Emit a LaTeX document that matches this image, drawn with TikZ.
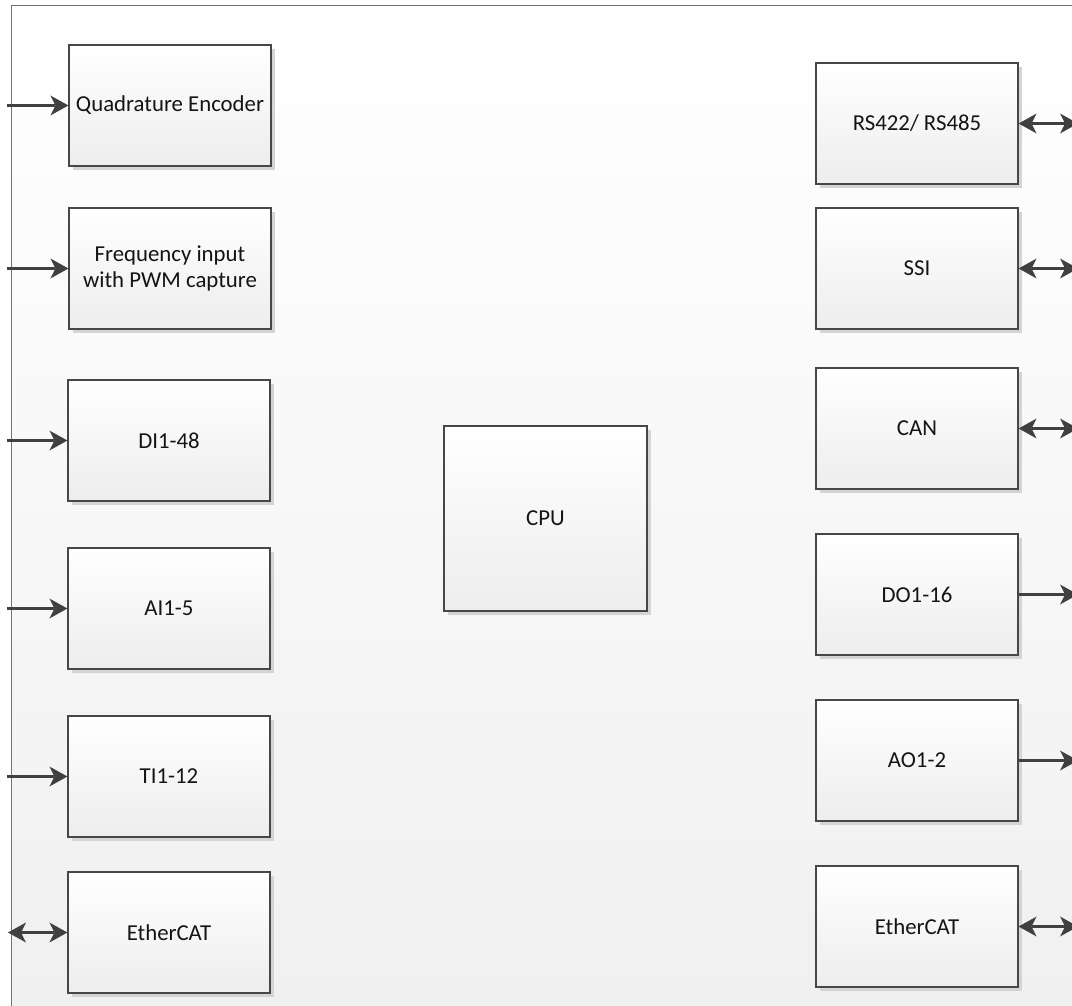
\documentclass[tikz,border=0pt]{standalone}
\usepackage{fontspec}
\setmainfont{Carlito}
\usetikzlibrary{arrows.meta,shadows}
\begin{document}
\begin{tikzpicture}[x=0.5pt,y=-0.5pt,
  blk/.style={draw=black!72, line width=0.6pt, top color=white, bottom color=black!7,
    minimum width=101pt, minimum height=60.5pt, inner sep=2pt, align=center,
    font=\fontsize{11.4}{12.8}\selectfont, text=black!92,
    drop shadow={shadow xshift=2pt, shadow yshift=-2pt, fill=black!17, opacity=1}},
  sig/.style={draw=black!75, line width=1.5pt,
    -{Stealth[length=9pt,width=10pt,inset=2.5pt,line width=0pt]}},
  bidir/.style={draw=black!75, line width=1.5pt,
    {Stealth[length=9pt,width=10pt,inset=2.5pt,line width=0pt]}-{Stealth[length=9pt,width=10pt,inset=2.5pt,line width=0pt]}}
]
\useasboundingbox (0,0) rectangle (1072,1006);
\clip (0,0) rectangle (1072,1006);
\fill[white] (0,0) rectangle (1072,1006);

% enclosing board
\draw[draw=black!55, line width=0.5pt, top color=white, bottom color=black!6]
  (11,6) rectangle (1100,1030);

% input modules
\node[blk] (qe)  at (170,105.5) {Quadrature Encoder};
\node[blk] (fi)  at (170,268.5) {Frequency input\\with PWM capture};
\node[blk] (di)  at (169,440.5) {DI1-48};
\node[blk] (ai)  at (169,608.5) {AI1-5};
\node[blk] (ti)  at (169,776.5) {TI1-12};
\node[blk] (ecl) at (169,932.5) {EtherCAT};

% processor
\node[blk, minimum width=101.5pt, minimum height=92.5pt] (cpu) at (545.5,518.5) {CPU};

% output and bus modules
\node[blk] (rs)  at (917,123.5) {RS422/ RS485};
\node[blk] (ssi) at (917,268.5) {SSI};
\node[blk] (can) at (917,428.5) {CAN};
\node[blk] (do)  at (917,594.5) {DO1-16};
\node[blk] (ao)  at (917,760.5) {AO1-2};
\node[blk] (ecr) at (917,926.5) {EtherCAT};

% external terminals
\coordinate (qe-in)  at (7,105.5);
\coordinate (fi-in)  at (7,268.5);
\coordinate (di-in)  at (7,440.5);
\coordinate (ai-in)  at (7,608.5);
\coordinate (ti-in)  at (7,776.5);
\coordinate (ecl-io) at (8,932.5);
\coordinate (rs-io)  at (1078,123.5);
\coordinate (ssi-io) at (1078,268.5);
\coordinate (can-io) at (1078,428.5);
\coordinate (do-out) at (1078,594.5);
\coordinate (ao-out) at (1078,760.5);
\coordinate (ecr-io) at (1078,926.5);

% signal connectors
\draw[sig] (qe-in) -- (qe.west);
\draw[sig] (fi-in) -- (fi.west);
\draw[sig] (di-in) -- (di.west);
\draw[sig] (ai-in) -- (ai.west);
\draw[sig] (ti-in) -- (ti.west);
\draw[bidir] (ecl-io) -- (ecl.west);
\draw[bidir] (rs.east) -- (rs-io);
\draw[bidir] (ssi.east) -- (ssi-io);
\draw[bidir] (can.east) -- (can-io);
\draw[sig] (do.east) -- (do-out);
\draw[sig] (ao.east) -- (ao-out);
\draw[bidir] (ecr.east) -- (ecr-io);
\end{tikzpicture}
\end{document}
